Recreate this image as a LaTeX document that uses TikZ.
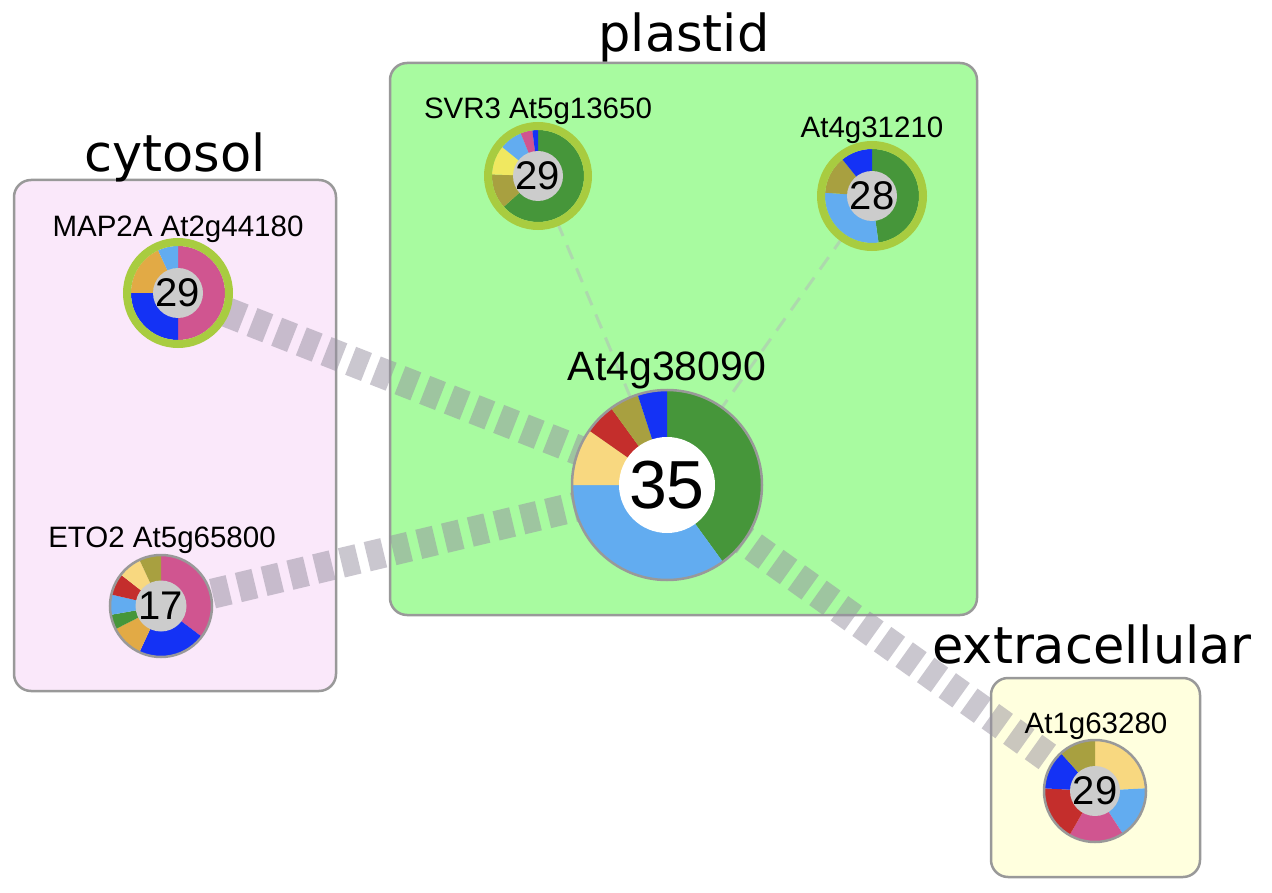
\documentclass[tikz,border=0pt]{standalone}
\usepackage{fontspec}
\setmainfont{Liberation Sans}
\newfontfamily\titlefont{DejaVu Sans}
\definecolor{cgreen}{RGB}{70,150,58}
\definecolor{clblue}{RGB}{98,172,240}
\definecolor{cblue}{RGB}{20,50,245}
\definecolor{cpink}{RGB}{208,85,144}
\definecolor{corange}{RGB}{226,170,69}
\definecolor{colive}{RGB}{168,160,64}
\definecolor{clorange}{RGB}{248,216,128}
\definecolor{cred}{RGB}{196,46,44}
\definecolor{cyellow}{RGB}{240,232,96}
\definecolor{cring}{RGB}{168,204,64}
\definecolor{chole}{RGB}{204,204,204}
\definecolor{cborder}{RGB}{153,153,153}
\definecolor{cytofill}{RGB}{250,232,250}
\definecolor{plasfill}{RGB}{168,251,160}
\definecolor{extrafill}{RGB}{255,255,222}
\definecolor{edgec}{RGB}{150,144,160}
\newcommand\pslice[5]{\fill[#5] (#1) -- ++({90-#2}:#4) arc[start angle={90-#2},end angle={90-#3},radius=#4] -- cycle;}
\tikzset{
  compbox/.style={draw=cborder, line width=2.5pt, rounded corners=17pt, inner sep=0pt},
  titletxt/.style={font=\titlefont\fontsize{51}{55}\selectfont, anchor=base, inner sep=0pt},
  lbl/.style={font=\fontsize{29.5}{32}\selectfont, anchor=base, inner sep=0pt},
  biglbl/.style={font=\fontsize{41}{44}\selectfont, anchor=base, inner sep=0pt},
  numtxt/.style={font=\fontsize{40}{44}\selectfont, inner sep=0pt},
  bignum/.style={font=\fontsize{68}{72}\selectfont, inner sep=0pt},
  thickedge/.style={line width=30pt, dash pattern=on 17pt off 9.5pt, draw=edgec, draw opacity=0.5},
  thinedge/.style={line width=3pt, dash pattern=on 15pt off 10pt, draw=edgec!70, draw opacity=0.45},
  ring/.style={draw=cring, line width=8pt},
  rim/.style={draw=cborder, line width=2.5pt}
}
\begin{document}
\begin{tikzpicture}[x=1pt,y=1pt]
\useasboundingbox (0,0) rectangle (1272,-893);
% compartments
\node[compbox, fill=cytofill, minimum width=322pt, minimum height=511pt] (cyto) at (175,-435.5) {};
\node[compbox, fill=plasfill, minimum width=587pt, minimum height=552pt] (plas) at (683.5,-339) {};
\node[compbox, fill=extrafill, minimum width=209pt, minimum height=199pt] (extra) at (1095.5,-777.5) {};
\node[titletxt] (cytot) at (175,-172) {cytosol};
\node[titletxt] (plast) at (684,-52) {plastid};
\node[titletxt] (extrat) at (1092,-663) {extracellular};
% centres
\coordinate (map) at (178,-293);
\coordinate (svr) at (538,-176);
\coordinate (at31) at (872,-196);
\coordinate (big) at (667,-485);
\coordinate (eto) at (161,-606);
\coordinate (at63) at (1095,-791);
% edges
\draw[thinedge] (svr) -- (big);
\draw[thinedge] (at31) -- (big);
\draw[thickedge] (map) -- (big);
\draw[thickedge] (eto) -- (big);
\draw[thickedge] (big) -- (at63);
% MAP2A
\pslice{map}{0}{180}{47pt}{cpink}
\pslice{map}{180}{270}{47pt}{cblue}
\pslice{map}{270}{335}{47pt}{corange}
\pslice{map}{335}{360}{47pt}{clblue}
\draw[ring] (map) circle[radius=51pt];
\fill[chole] (map) circle[radius=25pt];
\node[numtxt] (mapn) at (map) {29};
\node[lbl] (mapl) at (178,-237) {MAP2A At2g44180};
% SVR3
\pslice{svr}{0}{228}{46pt}{cgreen}
\pslice{svr}{228}{272}{46pt}{colive}
\pslice{svr}{272}{309}{46pt}{cyellow}
\pslice{svr}{309}{338}{46pt}{clblue}
\pslice{svr}{338}{353}{46pt}{cpink}
\pslice{svr}{353}{360}{46pt}{cblue}
\draw[ring] (svr) circle[radius=50pt];
\fill[chole] (svr) circle[radius=25pt];
\node[numtxt] (svrn) at (svr) {29};
\node[lbl] (svrl) at (538,-119) {SVR3 At5g13650};
% At4g31210
\pslice{at31}{0}{172}{47pt}{cgreen}
\pslice{at31}{172}{274}{47pt}{clblue}
\pslice{at31}{274}{321}{47pt}{colive}
\pslice{at31}{321}{360}{47pt}{cblue}
\draw[ring] (at31) circle[radius=51pt];
\fill[chole] (at31) circle[radius=25pt];
\node[numtxt] (at31n) at (at31) {28};
\node[lbl] (at31l) at (872,-138) {At4g31210};
% At4g38090
\pslice{big}{0}{144}{95pt}{cgreen}
\pslice{big}{144}{270}{95pt}{clblue}
\pslice{big}{270}{305}{95pt}{clorange}
\pslice{big}{305}{324}{95pt}{cred}
\pslice{big}{324}{342}{95pt}{colive}
\pslice{big}{342}{360}{95pt}{cblue}
\draw[rim] (big) circle[radius=95pt];
\fill[white] (big) circle[radius=48pt];
\node[bignum] (bign) at (big) {35};
\node[biglbl] (bigl) at (667,-381) {At4g38090};
% ETO2
\pslice{eto}{0}{127}{51pt}{cpink}
\pslice{eto}{127}{205}{51pt}{cblue}
\pslice{eto}{205}{243}{51pt}{corange}
\pslice{eto}{243}{260}{51pt}{cgreen}
\pslice{eto}{260}{283}{51pt}{clblue}
\pslice{eto}{283}{308}{51pt}{cred}
\pslice{eto}{308}{335}{51pt}{clorange}
\pslice{eto}{335}{360}{51pt}{colive}
\draw[rim] (eto) circle[radius=51pt];
\fill[chole] (eto) circle[radius=25.5pt];
\node[numtxt] (eton) at (eto) {17};
\node[lbl] (etol) at (162,-547) {ETO2 At5g65800};
% At1g63280
\pslice{at63}{0}{87}{51pt}{clorange}
\pslice{at63}{87}{147}{51pt}{clblue}
\pslice{at63}{147}{210}{51pt}{cpink}
\pslice{at63}{210}{273}{51pt}{cred}
\pslice{at63}{273}{318}{51pt}{cblue}
\pslice{at63}{318}{360}{51pt}{colive}
\draw[rim] (at63) circle[radius=51pt];
\fill[chole] (at63) circle[radius=25pt];
\node[numtxt] (at63n) at (at63) {29};
\node[lbl] (at63l) at (1096,-733) {At1g63280};
\end{tikzpicture}
\end{document}
